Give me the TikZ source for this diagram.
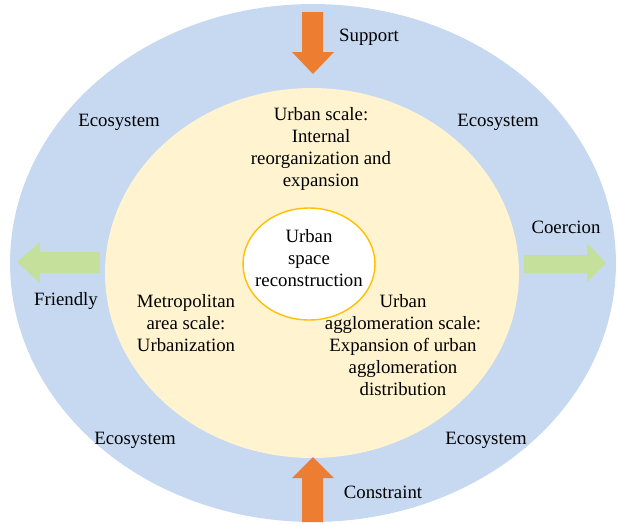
\documentclass[tikz,border=0pt]{standalone}
\usepackage{fontspec}
\setmainfont{Liberation Serif}
\usepackage{xcolor}
\definecolor{ringblue}{RGB}{198,217,241}
\definecolor{innercream}{RGB}{255,243,208}
\definecolor{pushorange}{RGB}{237,125,49}
\definecolor{pullgreen}{RGB}{197,224,155}
\definecolor{rimgold}{RGB}{255,192,0}
\tikzset{
	lbl/.style = {align=center, inner sep=0pt, font=\fontsize{10.7}{12.6}\selectfont},
}

\begin{document}
\begin{tikzpicture}[x=0.02cm, y=-0.02cm]
	\useasboundingbox (0,0) rectangle (618,524);
	\fill[ringblue] (313,263) ellipse [x radius=6.06cm, y radius=5.18cm];
	\fill[innercream] (312,273) ellipse [x radius=4.14cm, y radius=3.7cm];
	\filldraw[fill=white, draw=rimgold, thick] (309,264) ellipse [x radius=1.32cm, y radius=1.12cm];
%
	\fill[pushorange] (302,12) -- (323,12) -- (323,52) -- (334,52) -- (313,74) -- (292,52) -- (302,52) -- cycle;
	\fill[pushorange] (302,522) -- (323,522) -- (323,478) -- (334,478) -- (313,457) -- (292,478) -- (302,478) -- cycle;
	\fill[pullgreen] (100,252) -- (100,273) -- (40,273) -- (40,283) -- (17,262) -- (40,242) -- (40,252) -- cycle;
	\fill[pullgreen] (524,255) -- (524,273) -- (587,273) -- (587,282) -- (606,263) -- (587,243) -- (587,255) -- cycle;
%
	\node[lbl] (support) at (369,37) {Support};
	\node[lbl] (constraint) at (383,492) {Constraint};
	\node[lbl] (friendly) at (66,301) {Friendly};
	\node[lbl] (coercion) at (566,227) {Coercion};
	\node[lbl] (ecotl) at (119,122) {Ecosystem};
	\node[lbl] (ecotr) at (498,122) {Ecosystem};
	\node[lbl] (ecobl) at (135,440) {Ecosystem};
	\node[lbl] (ecobr) at (486,440) {Ecosystem};
%
	\node[lbl] (core) at (309,258) {Urban\\space\\reconstruction};
	\node[lbl] (city) at (321,149) {Urban scale:\\Internal\\reorganization and\\expansion};
	\node[lbl] (metro) at (186,323) {Metropolitan\\area scale:\\Urbanization};
	\node[lbl] (agglo) at (403,345) {Urban\\agglomeration scale:\\Expansion of urban\\agglomeration\\distribution};
\end{tikzpicture}
\end{document}
